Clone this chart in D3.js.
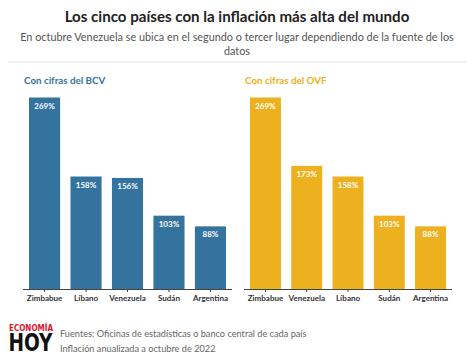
<!DOCTYPE html>
<html><head><meta charset="utf-8">
<script src="https://cdn.jsdelivr.net/npm/d3@7"></script>
<style>body{margin:0;background:#fff;} svg{display:block;}</style>
</head><body>
<svg id="c" width="474" height="357"></svg>
<script>
const title = "Los cinco países con la inflación más alta del mundo";
const subtitleLines = ["En octubre Venezuela se ubica en el segundo o tercer lugar dependiendo de la fuente de los", "datos"];
const bcvCountries = ["Zimbabue", "Líbano", "Venezuela", "Sudán", "Argentina"];
const bcvValues = [269, 158, 156, 103, 88];
const ovfCountries = ["Zimbabue", "Venezuela", "Líbano", "Sudán", "Argentina"];
const ovfValues = [269, 173, 158, 103, 88];
const panelTitles = ["Con cifras del BCV", "Con cifras del OVF"];
const sourceLines = ["Fuentes: Oficinas de estadísticas o banco central de cada país", "Inflación anualizada a octubre de 2022"];

const svg = d3.select("#c");
const font = "Lato, 'Source Sans Pro', 'Noto Sans', sans-serif";

svg.append("text").attr("x", 237).attr("y", 22).attr("text-anchor", "middle")
  .attr("font-family", font).attr("font-weight", 700).attr("font-size", 15.1).attr("fill", "#222")
  .text(title);
subtitleLines.forEach((t, i) => {
  svg.append("text").attr("x", 237).attr("y", 41 + i * 14).attr("text-anchor", "middle")
    .attr("font-family", font).attr("font-size", 10.85).attr("fill", "#555").text(t);
});
svg.append("line").attr("x1", 8).attr("x2", 467).attr("y1", 62).attr("y2", 62)
  .attr("stroke", "#e6e6e6").attr("stroke-width", 1);

const panels = [
  {countries: bcvCountries, values: bcvValues, color: "#35739f", x0: 23, x1: 232, tx: 24},
  {countries: ovfCountries, values: ovfValues, color: "#edb120", x0: 244, x1: 452, tx: 245}
];
const y = d3.scaleLinear().domain([0, 269]).range([289, 97.5]);

panels.forEach((p, pi) => {
  const g = svg.append("g");
  g.append("text").attr("x", p.tx).attr("y", 84).attr("font-family", font).attr("font-weight", 700)
    .attr("font-size", 9.8).attr("fill", p.color).text(panelTitles[pi]);
  const x = d3.scaleBand().domain(p.countries).range([p.x0, p.x1]).paddingInner(0.25).paddingOuter(0.145);
  g.selectAll("rect").data(p.countries).join("rect")
    .attr("x", d => x(d)).attr("width", x.bandwidth())
    .attr("y", (d, i) => y(p.values[i])).attr("height", (d, i) => y(0) - y(p.values[i]))
    .attr("fill", p.color);
  g.selectAll("text.v").data(p.countries).join("text").attr("class", "v")
    .attr("x", d => x(d) + x.bandwidth() / 2).attr("y", (d, i) => y(p.values[i]) + 11)
    .attr("text-anchor", "middle").attr("font-family", font).attr("font-weight", 700)
    .attr("font-size", 8).attr("fill", "#fff").text((d, i) => p.values[i] + "%");
  const ax = g.append("g").attr("transform", `translate(0,${y(0)})`)
    .call(d3.axisBottom(x).tickSize(3).tickPadding(3));
  ax.select(".domain").attr("stroke", "#444").attr("stroke-width", 1).attr("d", `M${p.x0},0.5H${p.x1}`);
  ax.selectAll(".tick line").attr("stroke", "#444");
  ax.selectAll(".tick text").attr("font-family", font).attr("font-weight", 700)
    .attr("font-size", 8).attr("fill", "#333");
});

// footer logo
svg.append("text").attr("x", 9).attr("y", 330.5).attr("font-family", "'Liberation Sans Narrow','DejaVu Sans Condensed',sans-serif")
  .attr("font-weight", 700).attr("font-size", 9.5).attr("fill", "#e0142b")
  .attr("textLength", 44).attr("lengthAdjust", "spacingAndGlyphs").text("ECONOMÍA");
svg.append("text").attr("x", 8.5).attr("y", 351).attr("font-family", "'Liberation Sans Narrow','DejaVu Sans Condensed',sans-serif")
  .attr("font-weight", 700).attr("font-size", 24).attr("fill", "#111")
  .attr("textLength", 44).attr("lengthAdjust", "spacingAndGlyphs").text("HOY");
sourceLines.forEach((t, i) => {
  svg.append("text").attr("x", 60).attr("y", 337 + i * 15).attr("font-family", font)
    .attr("font-size", 9.2).attr("fill", "#666").text(t);
});
</script>
</body></html>
